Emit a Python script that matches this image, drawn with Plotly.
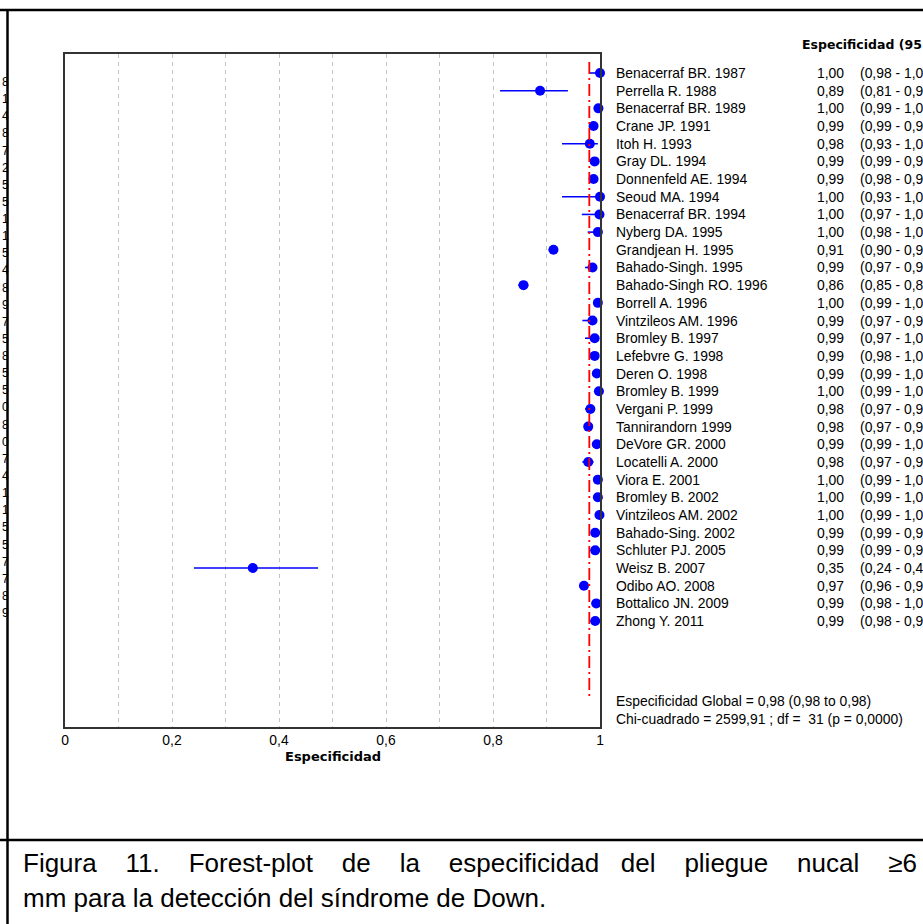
import plotly.graph_objects as go

# ---------------- data ----------------
studies = ["Benacerraf BR. 1987", "Perrella R. 1988", "Benacerraf BR. 1989", "Crane JP. 1991",
           "Itoh H. 1993", "Gray DL. 1994", "Donnenfeld AE. 1994", "Seoud MA. 1994",
           "Benacerraf BR. 1994", "Nyberg DA. 1995", "Grandjean H. 1995", "Bahado-Singh. 1995",
           "Bahado-Singh RO. 1996", "Borrell A. 1996", "Vintzileos AM. 1996", "Bromley B. 1997",
           "Lefebvre G. 1998", "Deren O. 1998", "Bromley B. 1999", "Vergani P. 1999",
           "Tannirandorn 1999", "DeVore GR. 2000", "Locatelli A. 2000", "Viora E. 2001",
           "Bromley B. 2002", "Vintzileos AM. 2002", "Bahado-Sing. 2002", "Schluter PJ. 2005",
           "Weisz B. 2007", "Odibo AO. 2008", "Bottalico JN. 2009", "Zhong Y. 2011"]
espec = [1.000, 0.888, 0.997, 0.988, 0.981, 0.990, 0.988, 1.000, 0.999, 0.996, 0.913, 0.986,
         0.857, 0.996, 0.986, 0.990, 0.990, 0.994, 0.998, 0.982, 0.978, 0.994, 0.978, 0.996,
         0.996, 0.999, 0.991, 0.991, 0.351, 0.970, 0.993, 0.991]
ci_low = [0.980, 0.813, 0.991, 0.986, 0.929, 0.986, 0.982, 0.929, 0.966, 0.977, 0.904, 0.972,
          0.847, 0.991, 0.967, 0.972, 0.980, 0.986, 0.992, 0.972, 0.970, 0.987, 0.967, 0.990,
          0.989, 0.993, 0.988, 0.988, 0.241, 0.962, 0.984, 0.982]
ci_high = [1.000, 0.940, 1.000, 0.991, 0.996, 0.993, 0.993, 1.000, 1.000, 1.000, 0.921, 0.993,
           0.866, 0.999, 0.994, 0.998, 0.996, 0.998, 1.000, 0.989, 0.986, 0.997, 0.988, 0.999,
           0.999, 1.000, 0.994, 0.994, 0.473, 0.977, 0.998, 0.994]
pooled = 0.98
tick_vals = [0, 0.2, 0.4, 0.6, 0.8, 1]
tick_text = ["0", "0,2", "0,4", "0,6", "0,8", "1"]
grid_vals = [0.1, 0.3, 0.5, 0.7, 0.9]
header_text = "Especificidad (95"          # visible part (cut by the page edge)
summary_lines = ["Especificidad Global = 0,98 (0,98 to 0,98)",
                 "Chi-cuadrado = 2599,91 ; df =\u00a0\u00a031 (p = 0,0000)"]
caption_words_1 = ["Figura", "11.", "Forest-plot", "de", "la", "especificidad", "del",
                   "pliegue", "nucal", "≥6"]
caption_line_2 = "mm para la detección del síndrome de Down."
left_fragments = ["8", "1", "4", "8", "7", "2", "5", "5", "1", "1", "5", "4",
                  "8", "9", "7", "5", "8", "5", "5", "0", "8", "0", "7", "4",
                  "1", "1", "5", "5", "7", "7", "8", "9"]

# ---------------- layout geometry (pixels) ----------------
W, H = 923, 924
PL, PR, PT, PB = 65, 600, 54, 727
ROW0, ROWSTEP = 73, 17.68
CI_VISIBLE_CHARS = 11
SEP_Y = 840
GAP_NBSP = [3, 3, 3, 3, 3, 2, 3, 3, 3]   # justified spacing of caption line 1


def px_x(p):
    return (p - PL) / (PR - PL)


def px_y(p):
    return (PB - p) / (PB - PT)


def row_y(p):
    return (p - ROW0) / ROWSTEP


n = len(studies)
rows = list(range(n))
fmt = lambda v: f"{v:.2f}".replace(".", ",")

fig = go.Figure()
fig.add_trace(go.Scatter(
    x=espec, y=rows, mode="markers",
    marker=dict(color="#0000ff", size=10, symbol="circle"),
    error_x=dict(type="data", symmetric=False,
                 array=[h - e for h, e in zip(ci_high, espec)],
                 arrayminus=[e - l for e, l in zip(espec, ci_low)],
                 width=0, thickness=1.6, color="#0000ff"),
    cliponaxis=False, showlegend=False, hoverinfo="skip"))

FONT = "Liberation Sans, Arial, sans-serif"
TXT = dict(family=FONT, size=13.9, color="#000000")
BOLD = dict(family="DejaVu Sans, sans-serif", size=12.5, color="#000000")
ann = []
ann.append(dict(x=px_x(800), y=px_y(44), xref="paper", yref="paper",
                text="<b>" + header_text + "</b>",
                showarrow=False, xanchor="left", yanchor="middle", font=BOLD))
for i, s in enumerate(studies):
    yp = px_y(ROW0 + ROWSTEP * i)
    ann.append(dict(x=px_x(614), y=yp, xref="paper", yref="paper", text=s, showarrow=False,
                    xanchor="left", yanchor="middle", font=TXT))
    ann.append(dict(x=px_x(815), y=yp, xref="paper", yref="paper", text=fmt(espec[i]),
                    showarrow=False, xanchor="left", yanchor="middle", font=TXT))
    ci_txt = f"({fmt(ci_low[i])} - {fmt(ci_high[i])})"[:CI_VISIBLE_CHARS]
    ann.append(dict(x=px_x(858), y=yp, xref="paper", yref="paper", text=ci_txt,
                    showarrow=False, xanchor="left", yanchor="middle", font=TXT))
for k, t in enumerate(summary_lines):
    ann.append(dict(x=px_x(614), y=px_y(701 + 18 * k), xref="paper", yref="paper", text=t,
                    showarrow=False, xanchor="left", yanchor="middle", font=TXT))
for k, t in enumerate(left_fragments):
    ann.append(dict(x=px_x(0), y=px_y(82 + 17.13 * k), xref="paper", yref="paper", text=t,
                    showarrow=False, xanchor="left", yanchor="middle",
                    font=dict(family=FONT, size=12, color="#000000")))
CAP = dict(family=FONT, size=26, color="#000000")
line1 = caption_words_1[0]
for w, g in zip(caption_words_1[1:], GAP_NBSP):
    line1 += " " + "\u00a0" * g + w
ann.append(dict(x=px_x(21), y=px_y(SEP_Y + 23), xref="paper", yref="paper",
                text=line1, showarrow=False, xanchor="left",
                yanchor="middle", font=CAP))
ann.append(dict(x=px_x(21), y=px_y(SEP_Y + 58), xref="paper", yref="paper", text=caption_line_2,
                showarrow=False, xanchor="left", yanchor="middle", font=CAP))
ann.append(dict(x=0.5, y=px_y(756), xref="paper", yref="paper", text="<b>Especificidad</b>",
                showarrow=False, xanchor="center", yanchor="middle",
                font=dict(family="DejaVu Sans, sans-serif", size=13, color="#000000")))

shapes = []
# pooled estimate line
shapes.append(dict(type="line", xref="x", yref="y", x0=pooled, x1=pooled,
                   y0=row_y(62), y1=row_y(700),
                   line=dict(color="#ff0000", width=1.8, dash="12px,4px,2px,4px")))
# frame of the document table
frame = dict(color="#000000", width=2.5)
shapes.append(dict(type="line", xref="paper", yref="paper", x0=px_x(0), x1=px_x(W),
                   y0=px_y(10), y1=px_y(10), line=frame))
shapes.append(dict(type="line", xref="paper", yref="paper", x0=px_x(7.5), x1=px_x(7.5),
                   y0=px_y(10), y1=px_y(H), line=frame))
shapes.append(dict(type="line", xref="paper", yref="paper", x0=px_x(0), x1=px_x(W),
                   y0=px_y(SEP_Y), y1=px_y(SEP_Y), line=frame))

fig.update_layout(
    width=W, height=H,
    margin=dict(l=PL, r=W - PR, t=PT, b=H - PB, pad=0),
    paper_bgcolor="#ffffff", plot_bgcolor="#ffffff",
    annotations=ann, shapes=shapes,
    xaxis=dict(range=[0, 1], tickvals=tick_vals, ticktext=tick_text,
               showgrid=True, gridcolor="#c4c4c4", griddash="4px,4px", gridwidth=1.2,
               zeroline=False,
               showline=True, mirror=True, linecolor="#333333", linewidth=1.5,
               ticks="", tickfont=TXT,
               minor=dict(tickvals=grid_vals, showgrid=True, gridcolor="#c4c4c4",
                          griddash="4px,4px", gridwidth=1.2)),
    yaxis=dict(range=[row_y(PB), row_y(PT)], showgrid=False, zeroline=False,
               showticklabels=False, showline=True, mirror=True,
               linecolor="#333333", linewidth=1.5, ticks=""),
    font=TXT,
)

fig.write_html("out.html")
